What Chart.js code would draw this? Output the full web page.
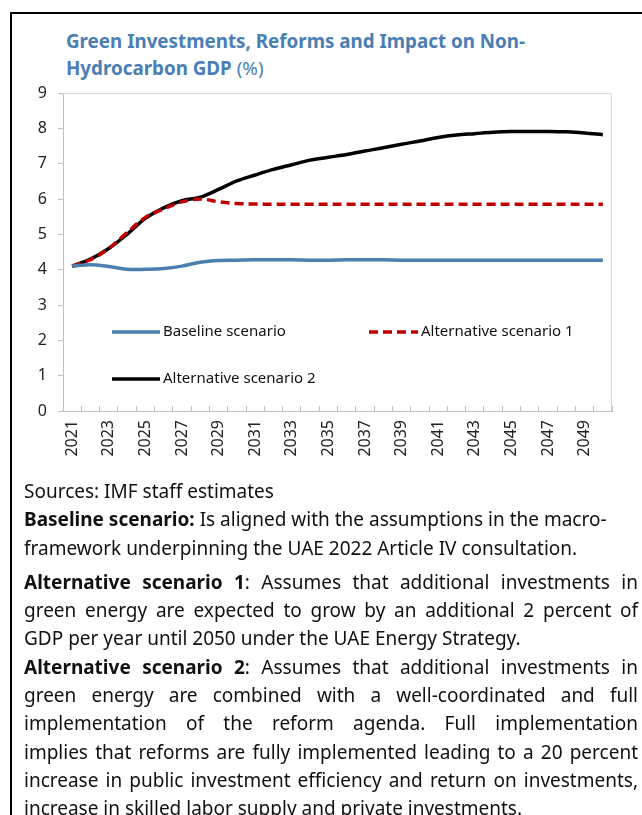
<!DOCTYPE html>
<html>
<head>
<meta charset="utf-8">
<script src="https://cdn.jsdelivr.net/npm/chart.js@4.4.1/dist/chart.umd.min.js"></script>
<style>
  html, body { margin:0; padding:0; background:#fff; width:642px; height:815px; overflow:hidden; }
  body { position:relative; font-family:"Noto Sans", "Open Sans", sans-serif; }
  #frame { position:absolute; left:10px; top:12px; width:900px; height:1000px; border:2px solid #000; box-sizing:border-box; }
  #title { position:absolute; left:66px; top:28px; font-size:18.8px; line-height:27px; font-weight:bold; color:#4a7eb5; white-space:nowrap; }
  #title span { font-weight:normal; }
  #wrap { position:absolute; left:0; top:0; width:642px; height:480px; }
  #notes { position:absolute; left:24px; top:477px; width:614px; font-size:19px; color:#111; }
  .ln { height:28.3px; line-height:28.3px; white-space:nowrap; }
  .j { text-align:justify; text-align-last:justify; }
  .gap { margin-top:6px; }
</style>
</head>
<body>
<div id="frame"></div>
<div id="title">Green Investments, Reforms and Impact on Non-<br>Hydrocarbon GDP <span>(%)</span></div>
<div id="wrap"><canvas id="c" width="642" height="480"></canvas></div>
<div id="notes">
  <div class="ln">Sources: IMF staff estimates</div>
  <div class="ln"><b>Baseline scenario:</b> Is aligned with the assumptions in the macro-</div>
  <div class="ln">framework underpinning the UAE 2022 Article IV consultation.</div>
  <div class="ln j gap"><b>Alternative scenario 1</b>: Assumes that additional investments in</div>
  <div class="ln j">green energy are expected to grow by an additional 2 percent of</div>
  <div class="ln">GDP per year until 2050 under the UAE Energy Strategy.</div>
  <div class="ln j"><b>Alternative scenario 2</b>: Assumes that additional investments in</div>
  <div class="ln j">green energy are combined with a well-coordinated and full</div>
  <div class="ln j">implementation of the reform agenda. Full implementation</div>
  <div class="ln j">implies that reforms are fully implemented leading to a 20 percent</div>
  <div class="ln j">increase in public investment efficiency and return on investments,</div>
  <div class="ln">increase in skilled labor supply and private investments.</div>
</div>
<script>
const years = ["2021","2022","2023","2024","2025","2026","2027","2028","2029","2030",
               "2031","2032","2033","2034","2035","2036","2037","2038","2039","2040",
               "2041","2042","2043","2044","2045","2046","2047","2048","2049","2050"];
const baseline = [4.10,4.14,4.09,4.01,4.01,4.03,4.10,4.21,4.26,4.27,
                  4.28,4.28,4.28,4.27,4.27,4.28,4.28,4.28,4.27,4.27,
                  4.27,4.27,4.27,4.27,4.27,4.27,4.27,4.27,4.27,4.27];
const alternative1 = [4.10,4.28,4.60,5.05,5.48,5.72,5.92,6.00,5.92,5.87,
                      5.86,5.85,5.85,5.85,5.85,5.85,5.85,5.85,5.85,5.85,
                      5.85,5.85,5.85,5.85,5.85,5.85,5.85,5.85,5.85,5.85];
const alternative2 = [4.10,4.30,4.60,5.00,5.45,5.75,5.95,6.05,6.27,6.51,
                      6.68,6.84,6.97,7.10,7.18,7.26,7.36,7.45,7.55,7.64,
                      7.74,7.81,7.85,7.89,7.91,7.91,7.91,7.90,7.87,7.82];
const seriesNames = ["Baseline scenario","Alternative scenario 1","Alternative scenario 2"];
const yTicks = [0,1,2,3,4,5,6,7,8,9];

const AXIS = '#bfbfbf';

const frameAndLegend = {
  id:'frameAndLegend',
  beforeDatasetsDraw(chart){
    const {ctx, chartArea:a} = chart;
    ctx.save();
    ctx.strokeStyle = '#d9d9d9';
    ctx.lineWidth = 1;
    ctx.beginPath();
    ctx.moveTo(a.left, a.top+0.5); ctx.lineTo(a.right-0.5, a.top+0.5); ctx.lineTo(a.right-0.5, a.bottom);
    ctx.stroke();
    ctx.restore();
  },
  afterDatasetsDraw(chart){
    const {ctx, chartArea:a} = chart;
    const ds = chart.data.datasets;
    const items = [
      {i:0, x1:a.left+49, x2:a.left+97, y:a.top+239},
      {i:1, x1:a.left+306, x2:a.left+355, y:a.top+239},
      {i:2, x1:a.left+49, x2:a.left+97, y:a.top+286}
    ];
    ctx.save();
    ctx.font = '15px "Noto Sans", sans-serif';
    ctx.textBaseline = 'middle';
    items.forEach(it=>{
      const d = ds[it.i];
      ctx.strokeStyle = d.borderColor;
      ctx.lineWidth = d.borderWidth;
      ctx.setLineDash(d.borderDash || []);
      ctx.beginPath(); ctx.moveTo(it.x1, it.y); ctx.lineTo(it.x2, it.y); ctx.stroke();
      ctx.setLineDash([]);
      ctx.fillStyle = '#111';
      ctx.fillText(d.label, it.x2+3, it.y);
    });
    ctx.restore();
  }
};

new Chart(document.getElementById('c'), {
  type:'line',
  data:{
    labels: years,
    datasets:[
      {label:seriesNames[0], data:baseline, borderColor:'#4a7fb0', borderWidth:3.5, pointRadius:0, tension:0.35, fill:false},
      {label:seriesNames[1], data:alternative1, borderColor:'#c00000', borderWidth:3.5, borderDash:[9,5], pointRadius:0, tension:0.35, fill:false},
      {label:seriesNames[2], data:alternative2, borderColor:'#000000', borderWidth:3.5, pointRadius:0, tension:0.35, fill:false}
    ]
  },
  options:{
    responsive:false,
    animation:false,
    layout:{padding:{top:93, right:30, left:0, bottom:0}},
    plugins:{legend:{display:false}, tooltip:{enabled:false}, title:{display:false}},
    scales:{
      x:{
        type:'category',
        offset:true,
        grid:{offset:true, drawOnChartArea:false, drawTicks:true, tickLength:-5, tickColor:AXIS},
        border:{color:AXIS, width:1},
        ticks:{autoSkip:false, minRotation:90, maxRotation:90, padding:14, color:'#222',
               font:{family:'"Noto Sans", sans-serif', size:16},
               callback:function(v,i){ return i%2===0 ? this.getLabelForValue(v) : ''; }},
        afterFit(s){ s.height = 69; }
      },
      y:{
        min:0, max:9,
        afterBuildTicks(s){ s.ticks = yTicks.map(v=>({value:v})); },
        grid:{drawOnChartArea:false, drawTicks:true, tickLength:5, tickColor:AXIS},
        border:{color:AXIS, width:1},
        ticks:{padding:11, color:'#222', font:{family:'"Noto Sans", sans-serif', size:16}},
        afterFit(s){ s.width = 63; }
      }
    }
  },
  plugins:[frameAndLegend]
});
</script>
</body>
</html>
